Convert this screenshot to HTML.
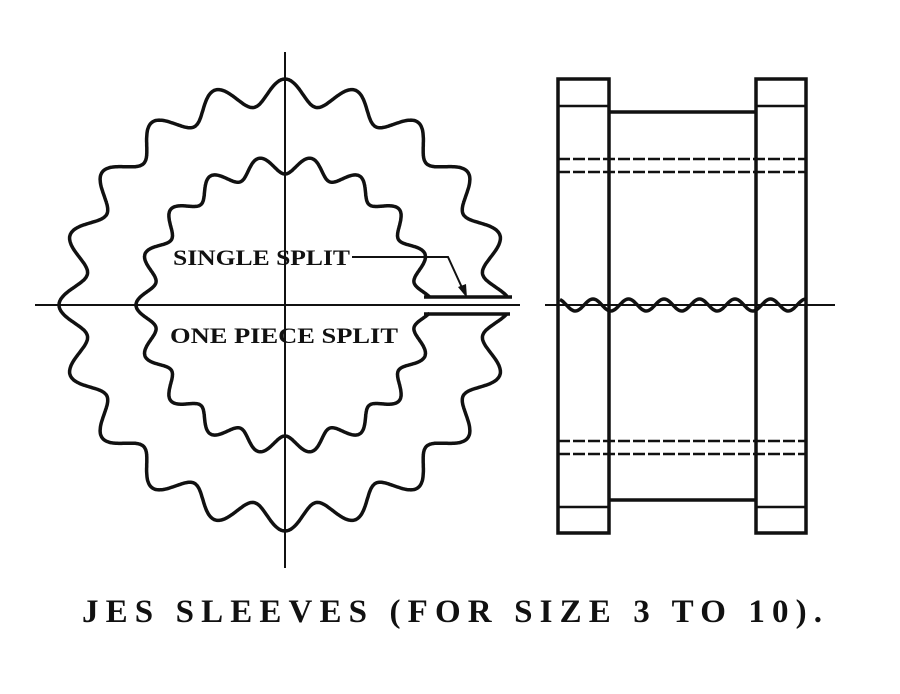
<!DOCTYPE html>
<html><head><meta charset="utf-8"><style>
html,body{margin:0;padding:0;background:#fff;}
svg{display:block;}
text{font-family:"Liberation Serif",serif;font-weight:bold;fill:#111;}
</style></head><body>
<svg id="d" width="900" height="694" viewBox="0 0 900 694">
<g stroke="#111" fill="none">
<line x1="35" y1="305" x2="520" y2="305" stroke-width="2"/>
<line x1="285" y1="52" x2="285" y2="568" stroke-width="2"/>
<line x1="545" y1="305" x2="835" y2="305" stroke-width="2"/>
<path id="outer" stroke-width="3.5"/>
<path id="inner" stroke-width="3.5"/>
<line x1="424" y1="297" x2="512" y2="297" stroke-width="3.5"/>
<line x1="424" y1="314" x2="510" y2="314" stroke-width="3.5"/>
<polyline points="352,257 448,257 464,292" stroke-width="2"/>
<polygon points="467,298 458,287 466,284" fill="#111" stroke="none"/>
<g stroke-width="3.5">
<rect x="558" y="79" width="51" height="454"/>
<rect x="756" y="79" width="50" height="454"/>
<line x1="609" y1="112" x2="756" y2="112"/>
<line x1="609" y1="500" x2="756" y2="500"/>
<line x1="558" y1="106" x2="609" y2="106" stroke-width="2.5"/>
<line x1="756" y1="106" x2="806" y2="106" stroke-width="2.5"/>
<line x1="558" y1="507" x2="609" y2="507" stroke-width="2.5"/>
<line x1="756" y1="507" x2="806" y2="507" stroke-width="2.5"/>
</g>
<g stroke-width="2.5" stroke-dasharray="12,3">
<line x1="558" y1="159" x2="806" y2="159"/>
<line x1="558" y1="172" x2="806" y2="172"/>
<line x1="558" y1="441" x2="806" y2="441"/>
<line x1="558" y1="454" x2="806" y2="454"/>
</g>
<path id="wave" stroke-width="3.5"/>
</g>
<text x="173" y="265" font-size="22" textLength="177" lengthAdjust="spacingAndGlyphs">SINGLE SPLIT</text>
<text x="170" y="343" font-size="22" textLength="228" lengthAdjust="spacingAndGlyphs">ONE PIECE SPLIT</text>
<text x="82" y="622" font-size="33" textLength="740" lengthAdjust="spacing">JES SLEEVES (FOR SIZE 3 TO 10).</text>
</svg>
<script>
function gear(R,A,n,phase,skip){
  var cx=285,cy=305,d='',started=false;
  for(var i=0;i<=1440;i++){
    var t=i/1440*2*Math.PI;
    if(skip&&(t<skip||t>2*Math.PI-skip)){started=false;continue;}
    var r=R+A*Math.cos(n*(t+Math.PI/2)+phase);
    var x=cx+r*Math.cos(t),y=cy+r*Math.sin(t);
    d+=(started?'L':'M')+x.toFixed(1)+','+y.toFixed(1);started=true;
  }
  return d;
}
document.getElementById('outer').setAttribute('d',gear(213,13,20,0,0.035));
document.getElementById('inner').setAttribute('d',gear(140,9,18,Math.PI,0.055));
var w='';
for(var x=560;x<=806;x++){
  var y=305-6*Math.cos((x-593)/35.5*2*Math.PI);
  w+=(x==560?'M':'L')+x+','+y.toFixed(1);
}
document.getElementById('wave').setAttribute('d',w);
</script>
</body></html>
